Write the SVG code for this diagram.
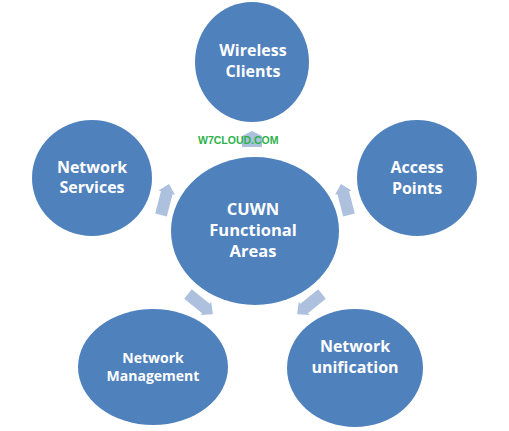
<svg xmlns="http://www.w3.org/2000/svg" width="509" height="431" viewBox="0 0 509 431">
<style>
.node{fill:#4f81bd}
.lbl{fill:#ffffff;font-family:"Open Sans","Liberation Sans",sans-serif;font-weight:bold;font-size:16px;text-anchor:middle}
.arr{fill:#adc0de}
.wm{fill:#2bb24a;font-family:"Liberation Sans",Arial,sans-serif;font-weight:bold;font-size:10.5px}
</style>
<defs>
<path id="ar" d="M0,-6 L23,-6 L23,-8.5 L32,0 L23,8.5 L23,6 L0,6 Z"/>
</defs>
<rect width="509" height="431" fill="#ffffff"/>
<g id="connectors" class="arr">
<polygon points="242,147 242,136 252,131 262,136 262,147"/>
<use href="#ar" transform="translate(161,215) rotate(-75.5)"/>
<use href="#ar" transform="translate(349,215) rotate(-104.5)"/>
<use href="#ar" transform="translate(188,294) rotate(39)"/>
<use href="#ar" transform="translate(322,294) rotate(141)"/>
</g>
<g id="wireless-clients">
<ellipse class="node" cx="252" cy="62" rx="57" ry="60"/>
<text class="lbl" x="253" y="56">Wireless</text>
<text class="lbl" x="253" y="77">Clients</text>
</g>
<g id="network-services">
<ellipse class="node" cx="92" cy="178" rx="60" ry="58"/>
<text class="lbl" x="92" y="173">Network</text>
<text class="lbl" x="92" y="193">Services</text>
</g>
<g id="access-points">
<ellipse class="node" cx="417" cy="178" rx="60" ry="58"/>
<text class="lbl" x="417" y="173">Access</text>
<text class="lbl" x="417" y="194">Points</text>
</g>
<g id="network-management">
<ellipse class="node" cx="153" cy="367" rx="75" ry="58"/>
<text class="lbl" x="153" y="363" style="font-size:14px">Network</text>
<text class="lbl" x="153" y="381" style="font-size:14px">Management</text>
</g>
<g id="network-unification">
<ellipse class="node" cx="355" cy="368" rx="68" ry="59"/>
<text class="lbl" x="355" y="352">Network</text>
<text class="lbl" x="355" y="373">unification</text>
</g>
<g id="cuwn">
<ellipse class="node" cx="255" cy="231" rx="84" ry="74"/>
<text class="lbl" x="253" y="215" style="font-size:16.5px">CUWN</text>
<text class="lbl" x="253" y="236" style="font-size:16.5px">Functional</text>
<text class="lbl" x="253" y="257" style="font-size:16.5px">Areas</text>
</g>
<text class="wm" x="198" y="144">W7CLOUD.COM</text>
</svg>
